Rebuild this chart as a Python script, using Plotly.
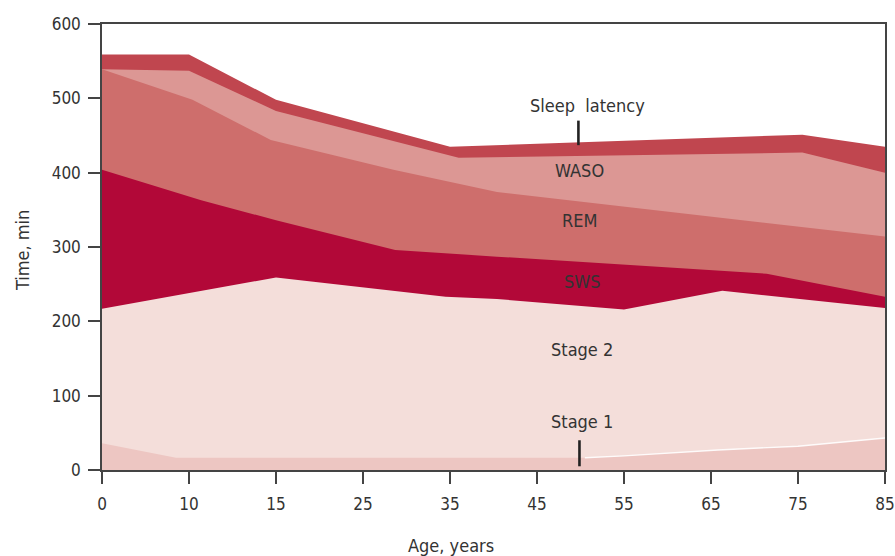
import numpy as np
import plotly.graph_objects as go

# x-axis categories (ages, years) shown evenly spaced
tick_ages = [0, 10, 15, 25, 35, 45, 55, 65, 75, 85]
tick_pos = list(range(len(tick_ages)))

# Cumulative boundaries (top of each layer), minutes
total_age = [0, 10, 15, 35, 75.5, 85]
total_min = [559, 559, 498, 435, 451, 435]          # + sleep latency

waso_age = [0, 10, 15, 36, 75.5, 85]
waso_min = [539, 537, 483, 420, 427, 400]           # top of WASO

rem_age = [0, 10.2, 14.7, 28.5, 40.4, 85]
rem_min = [539, 498, 444, 404, 374, 314]            # top of REM

sws_age = [0, 10.7, 15, 28.7, 40.4, 71.4, 85]
sws_min = [404, 363, 336, 296, 287, 264, 233]       # top of SWS

st2_age = [0, 15, 34.5, 40.4, 55, 66.3, 85]
st2_min = [217, 259, 233, 230, 216, 241, 218]       # top of Stage 2

st1_age = [0, 8.5, 50.5, 55, 65.8, 75, 85]
st1_min = [36, 16.5, 16.5, 19, 27, 32, 43]          # top of Stage 1

layer_names = ["Sleep latency", "WASO", "REM", "SWS", "Stage 2", "Stage 1"]
layer_colors = ["#C0464F", "#DC9794", "#CE6E6C", "#B20838", "#F4DEDA", "#EDC6C2"]


def pos(ages):
    return np.interp(ages, tick_ages, tick_pos)


FONT = "Liberation Sans Narrow, DejaVu Sans Condensed, Roboto, sans-serif"
TXT = "#333333"

fig = go.Figure()
series = [(total_age, total_min), (waso_age, waso_min), (rem_age, rem_min),
          (sws_age, sws_min), (st2_age, st2_min), (st1_age, st1_min)]
for (a, m), name, col in zip(series, layer_names, layer_colors):
    fig.add_trace(go.Scatter(x=pos(a), y=m, mode="lines", name=name,
                             fill="tozeroy", fillcolor=col,
                             line=dict(width=0, color=col), hoverinfo="skip",
                             showlegend=False))

# thin white gap between Stage 1 and Stage 2 on the right side
gap_age = st1_age[2:7]
gap_min = st1_min[2:7]
fig.add_trace(go.Scatter(x=pos(gap_age), y=gap_min, mode="lines",
                         line=dict(width=1.4, color="rgba(255,255,255,0.9)"),
                         hoverinfo="skip", showlegend=False))

# labels (positions in axis units)
labels = [
    ("Sleep\u00a0 latency", 5.575, 491),
    ("WASO", 5.487, 403),
    ("REM", 5.487, 335),
    ("SWS", 5.518, 253),
    ("Stage 2", 5.518, 162),
    ("Stage 1", 5.518, 65),
]
for t, x, y in labels:
    fig.add_annotation(x=x, y=y, xref="x", yref="y", text=t, showarrow=False,
                       font=dict(family=FONT, size=18, color=TXT))

# axis titles
fig.add_annotation(x=0.4457, y=-0.1704, xref="paper", yref="paper", text="Age, years",
                   showarrow=False, xanchor="center", yanchor="middle",
                   font=dict(family=FONT, size=18, color=TXT))
fig.add_annotation(x=-0.1022, y=0.493, xref="paper", yref="paper", text="Time, min",
                   showarrow=False, xanchor="center", yanchor="middle", textangle=-90,
                   font=dict(family=FONT, size=18, color=TXT))

# pointer ticks
fig.add_shape(type="line", xref="x", yref="y", x0=5.476, x1=5.476, y0=470, y1=437,
              line=dict(color="#222222", width=2.6))
fig.add_shape(type="line", xref="x", yref="y", x0=5.488, x1=5.488, y0=40, y1=5,
              line=dict(color="#222222", width=2.6))

axis_common = dict(showline=True, linecolor="#444444", linewidth=1.5, mirror=True,
                   ticks="outside", ticklen=12, tickwidth=1.5, tickcolor="#444444",
                   showgrid=False, zeroline=False, automargin=False,
                   tickfont=dict(family=FONT, size=17, color=TXT))

fig.update_layout(
    width=895, height=556,
    margin=dict(l=102, r=10, t=24, b=86, autoexpand=False),
    paper_bgcolor="white", plot_bgcolor="white",
    xaxis=dict(range=[0, 9], tickvals=tick_pos, ticktext=[str(a) for a in tick_ages],
               ticklabelstandoff=6, **axis_common),
    yaxis=dict(range=[0, 600], tickvals=[0, 100, 200, 300, 400, 500, 600],
               ticklabelstandoff=4, **axis_common),
)

fig.write_html("out.html", config={"displayModeBar": False},
               post_script="document.body.style.margin='0';"
                           "document.body.style.overflow='hidden';")
